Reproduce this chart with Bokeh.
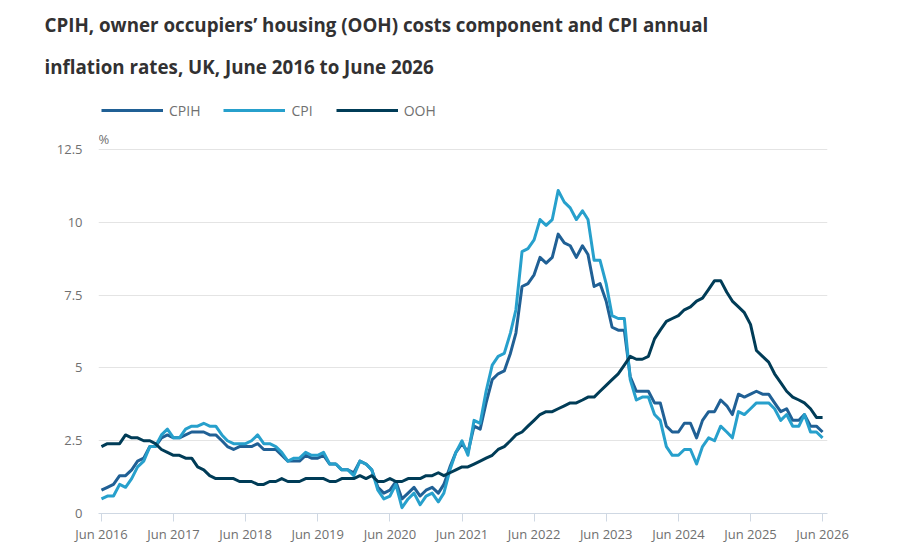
import pandas as pd
from bokeh.plotting import figure
from bokeh.models import (ColumnDataSource, Legend, LegendItem, Title, Label, FixedTicker,
                          DatetimeTickFormatter, NumeralTickFormatter, Range1d)
from bokeh.embed import file_html
from bokeh.resources import INLINE

# ---------------- data ----------------
months = pd.date_range("2016-06-01", "2026-06-01", freq="MS")

cpih = [0.8, 0.9, 1.0, 1.3, 1.3, 1.5, 1.8,
        1.9, 2.3, 2.3, 2.6, 2.7, 2.6, 2.6, 2.7, 2.8, 2.8, 2.8, 2.7,
        2.7, 2.5, 2.3, 2.2, 2.3, 2.3, 2.3, 2.4, 2.2, 2.2, 2.2, 2.0,
        1.8, 1.8, 1.8, 2.0, 1.9, 1.9, 2.0, 1.7, 1.7, 1.5, 1.5, 1.4,
        1.8, 1.7, 1.5, 0.9, 0.7, 0.8, 1.1, 0.5, 0.7, 0.9, 0.6, 0.8,
        0.9, 0.7, 1.0, 1.6, 2.1, 2.4, 2.1, 3.0, 2.9, 3.8, 4.6, 4.8,
        4.9, 5.5, 6.2, 7.8, 7.9, 8.2, 8.8, 8.6, 8.8, 9.6, 9.3, 9.2,
        8.8, 9.2, 8.9, 7.8, 7.9, 7.3, 6.4, 6.3, 6.3, 4.7, 4.2, 4.2,
        4.2, 3.8, 3.8, 3.0, 2.8, 2.8, 3.1, 3.1, 2.6, 3.2, 3.5, 3.5,
        3.9, 3.7, 3.4, 4.1, 4.0, 4.1, 4.2, 4.1, 4.1, 3.8, 3.5, 3.6,
        3.2, 3.2, 3.4, 3.0, 3.0, 2.8]

cpi = [0.5, 0.6, 0.6, 1.0, 0.9, 1.2, 1.6,
       1.8, 2.3, 2.3, 2.7, 2.9, 2.6, 2.6, 2.9, 3.0, 3.0, 3.1, 3.0,
       3.0, 2.7, 2.5, 2.4, 2.4, 2.4, 2.5, 2.7, 2.4, 2.4, 2.3, 2.1,
       1.8, 1.9, 1.9, 2.1, 2.0, 2.0, 2.1, 1.7, 1.7, 1.5, 1.5, 1.3,
       1.8, 1.7, 1.5, 0.8, 0.5, 0.6, 1.0, 0.2, 0.5, 0.7, 0.3, 0.6,
       0.7, 0.4, 0.7, 1.5, 2.1, 2.5, 2.0, 3.2, 3.1, 4.2, 5.1, 5.4,
       5.5, 6.2, 7.0, 9.0, 9.1, 9.4, 10.1, 9.9, 10.1, 11.1, 10.7, 10.5,
       10.1, 10.4, 10.1, 8.7, 8.7, 7.9, 6.8, 6.7, 6.7, 4.6, 3.9, 4.0,
       4.0, 3.4, 3.2, 2.3, 2.0, 2.0, 2.2, 2.2, 1.7, 2.3, 2.6, 2.5,
       3.0, 2.8, 2.6, 3.5, 3.4, 3.6, 3.8, 3.8, 3.8, 3.6, 3.2, 3.4,
       3.0, 3.0, 3.4, 2.8, 2.8, 2.6]

ooh = [2.3, 2.4, 2.4, 2.4, 2.7, 2.6, 2.6,
       2.5, 2.5, 2.4, 2.2, 2.1, 2.0, 2.0, 1.9, 1.9, 1.6, 1.5, 1.3,
       1.2, 1.2, 1.2, 1.2, 1.1, 1.1, 1.1, 1.0, 1.0, 1.1, 1.1, 1.2,
       1.1, 1.1, 1.1, 1.2, 1.2, 1.2, 1.2, 1.1, 1.1, 1.2, 1.2, 1.2,
       1.3, 1.2, 1.3, 1.1, 1.1, 1.2, 1.1, 1.1, 1.2, 1.2, 1.2, 1.3,
       1.3, 1.4, 1.3, 1.4, 1.5, 1.6, 1.6, 1.7, 1.8, 1.9, 2.0, 2.2,
       2.3, 2.5, 2.7, 2.8, 3.0, 3.2, 3.4, 3.5, 3.5, 3.6, 3.7, 3.8,
       3.8, 3.9, 4.0, 4.0, 4.2, 4.4, 4.6, 4.8, 5.1, 5.4, 5.3, 5.3,
       5.4, 6.0, 6.3, 6.6, 6.7, 6.8, 7.0, 7.1, 7.3, 7.4, 7.7, 8.0,
       8.0, 7.6, 7.3, 7.1, 6.9, 6.5, 5.6, 5.4, 5.2, 4.8, 4.5, 4.2,
       4.0, 3.9, 3.8, 3.6, 3.3, 3.3]

x_tick_dates = ["2016-06-01", "2017-06-01", "2018-06-01", "2019-06-01", "2020-06-01",
                "2021-06-01", "2022-06-01", "2023-06-01", "2024-06-01", "2025-06-01",
                "2026-06-01"]
y_ticks = [0, 2.5, 5, 7.5, 10, 12.5]

series_names = ["CPIH", "CPI", "OOH"]
series_colors = ["#206095", "#27a0cc", "#003c57"]

title_line1 = "CPIH, owner occupiers\u2019 housing (OOH) costs component and CPI annual"
title_line2 = "inflation rates, UK, June 2016 to June 2026"
unit_label = "%"

# ---------------- figure ----------------
src = ColumnDataSource(dict(month=months, CPIH=cpih, CPI=cpi, OOH=ooh))

FONT = "Open Sans"
GREY = "#707070"

p = figure(width=900, height=556, x_axis_type="datetime", title=None,
           toolbar_location=None, output_backend="svg",
           x_range=Range1d(pd.Timestamp("2016-05-17"), pd.Timestamp("2026-06-26")),
           y_range=Range1d(0, 14.706),
           min_border_left=98, min_border_right=73,
           min_border_top=0, min_border_bottom=43)
p.outline_line_color = None
p.background_fill_color = "white"
p.border_fill_color = "white"

renderers = []
for name, col in zip(series_names, series_colors):
    r = p.line(x="month", y=name, source=src, line_color=col, line_width=3,
               line_join="round")
    renderers.append(r)

# axes
p.xaxis.ticker = FixedTicker(ticks=[pd.Timestamp(d).value / 1e6 for d in x_tick_dates])
fmt = "%b %Y"
p.xaxis.formatter = DatetimeTickFormatter(years=fmt, months=fmt, days=fmt, hours=fmt,
                                          hourmin=fmt, minutes=fmt, minsec=fmt,
                                          seconds=fmt, milliseconds=fmt, microseconds=fmt)
p.xaxis.axis_line_color = "#cfd8e3"
p.xaxis.major_tick_line_color = "#cfd8e3"
p.xaxis.major_tick_out = 8
p.xaxis.major_tick_in = 0
p.xaxis.minor_tick_line_color = None
p.xaxis.major_label_standoff = 3
p.xaxis.major_label_text_font = FONT
p.xaxis.major_label_text_font_size = "13px"
p.xaxis.major_label_text_color = GREY

p.yaxis.ticker = FixedTicker(ticks=y_ticks)
p.yaxis.formatter = NumeralTickFormatter(format="0.[0]")
p.yaxis.axis_line_color = None
p.yaxis.major_tick_line_color = None
p.yaxis.minor_tick_line_color = None
p.yaxis.major_tick_out = 0
p.yaxis.major_tick_in = 0
p.yaxis.major_label_standoff = 16
p.yaxis.major_label_text_font = FONT
p.yaxis.major_label_text_font_size = "13px"
p.yaxis.major_label_text_color = GREY

p.xgrid.grid_line_color = None
p.ygrid.grid_line_color = "#e4e4e4"
p.ygrid.grid_line_width = 1

# legend and unit label inside the (tall) frame, above the top gridline
legend = Legend(items=[LegendItem(label=n, renderers=[r]) for n, r in zip(series_names, renderers)],
                location=(3, 393), orientation="horizontal",
                glyph_width=62, glyph_height=20, label_standoff=6, spacing=23,
                padding=0, margin=0, border_line_alpha=0, background_fill_alpha=0,
                label_text_font=FONT, label_text_font_size="14px",
                label_text_color=GREY)
p.add_layout(legend)

p.add_layout(Label(x=0, y=375, x_units="screen", y_units="screen", text=unit_label,
                   text_font=FONT, text_font_size="13px", text_color=GREY,
                   text_baseline="middle"))

# two-line title (first added = closest to the frame)
p.add_layout(Title(text=title_line2, align="left", offset=-54, standoff=13,
                   text_font=FONT, text_font_size="18.75px", text_font_style="bold",
                   text_color="#323132"), "above")
p.add_layout(Title(text=title_line1, align="left", offset=-54, standoff=18,
                   text_font=FONT, text_font_size="18.75px", text_font_style="bold",
                   text_color="#323132"), "above")

open("out.html", "w").write(file_html(p, INLINE))
